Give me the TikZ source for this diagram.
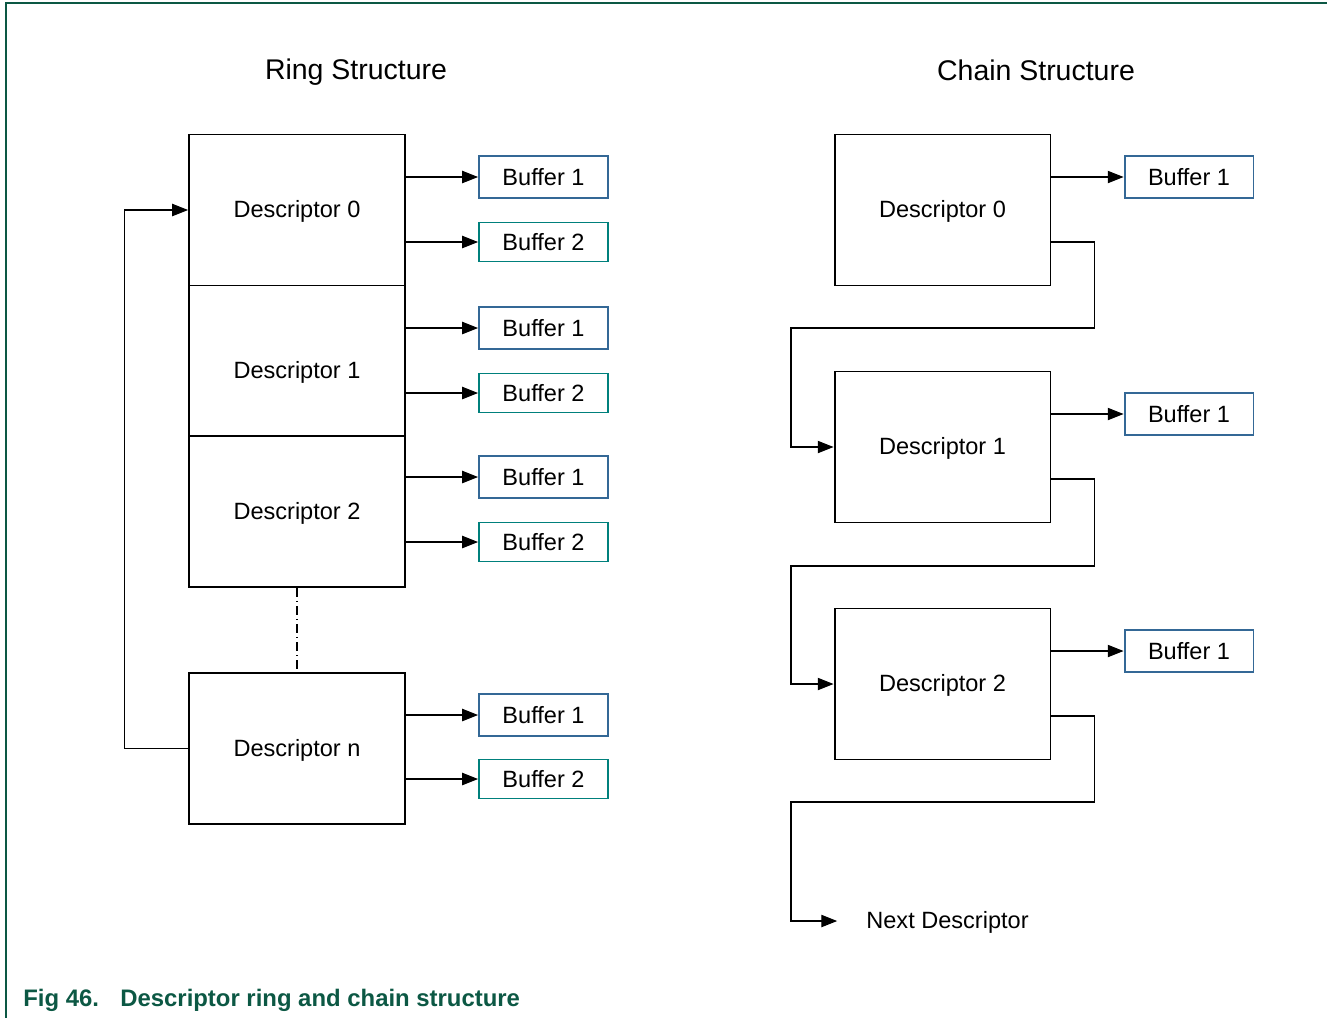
\documentclass[tikz,border=0pt]{standalone}
\usepackage{fontspec}
\setmainfont{Liberation Sans}
\usepackage{tikz}
\usetikzlibrary{arrows.meta, positioning, calc}
\definecolor{nxp-green}{RGB}{12,88,68}
\definecolor{buf-blue}{RGB}{52,104,150}
\definecolor{buf-teal}{RGB}{0,128,124}

\newcommand{\descdown}[2]{\raisebox{-#1}[\height][\depth]{#2}}

\tikzset{
    desc/.style={draw, line width=1.1pt, minimum width=4.32cm, minimum height=3.02cm,
        font=\fontsize{13.4}{16}\selectfont},
    bufa/.style={draw=buf-blue, line width=1.1pt, minimum width=2.58cm, minimum height=0.84cm,
        font=\fontsize{13.4}{16}\selectfont},
    bufb/.style={bufa, draw=buf-teal, minimum height=0.78cm},
    link/.style={line width=0.6pt, -{Triangle[length=9pt,width=7pt]}},
    titulo/.style={font=\fontsize{16.2}{19}\selectfont}
}

\begin{document}
\begin{tikzpicture}[x=0.02cm, y=-0.02cm]
    \useasboundingbox (0,0) rectangle (1327,1018);

    % Moldura
    \draw[nxp-green, line width=0.7pt] (1327,3) -- (6,3) -- (6,1018);

    % Titulos
    \node[titulo] (t-ring) at (356,72) {Ring Structure};
    \node[titulo] (t-chain) at (1036,70) {Chain Structure};

    % Anel
    \node[desc] (d0) at (297,210) {\descdown{0.03cm}{Descriptor 0}};
    \node[desc] (d1) at (297,361) {\descdown{0.22cm}{Descriptor 1}};
    \node[desc] (d2) at (297,511.5) {\descdown{0.03cm}{Descriptor 2}};
    \node[desc] (dn) at (297,748.5) {\descdown{0.03cm}{Descriptor n}};

    \foreach \d/\ya/\yb in {d0/177/242, d1/328/393, d2/477/542, dn/715/779} {
        \node[bufa] (\d-b1) at (543.5,\ya) {Buffer 1};
        \node[bufb] (\d-b2) at (543.5,\yb) {Buffer 2};
        \draw[link] (\d.east |- \d-b1.west) -- (\d-b1.west);
        \draw[link] (\d.east |- \d-b2.west) -- (\d-b2.west);
    }

    \draw[line width=0.6pt, dash pattern=on 5pt off 2.3pt on 0.7pt off 2.3pt] (d2.south) -- (dn.north);
    \draw[link] (dn.west) -- ++(-64,0) |- (d0.west);

    % Cadeia
    \node[desc] (c0) at (942.5,210) {\descdown{0.03cm}{Descriptor 0}};
    \node[desc] (c1) at (942.5,447) {\descdown{0.03cm}{Descriptor 1}};
    \node[desc] (c2) at (942.5,684) {\descdown{0.03cm}{Descriptor 2}};
    \node[font=\fontsize{13.4}{16}\selectfont] (next) at (947.5,922.5) {Next Descriptor};

    \foreach \c/\y in {c0/177, c1/414, c2/651} {
        \node[bufa] (\c-b1) at (1189,\y) {Buffer 1};
        \draw[link] (\c.east |- \c-b1.west) -- (\c-b1.west);
    }

    \draw[link] ($(c0.east)+(0,32)$) -- ++(43,0) |- (791,328) |- (c1.west);
    \draw[link] ($(c1.east)+(0,32)$) -- ++(43,0) |- (791,566) |- (c2.west);
    \draw[link] ($(c2.east)+(0,32)$) -- ++(43,0) |- (791,802) |- ($(next.west)+(-23,-1.5)$);

    % Legenda
    \node[anchor=west, inner sep=0pt, text=nxp-green, font=\fontsize{13.6}{16}\selectfont\bfseries] (cap-fig) at (23,1000) {Fig 46.};
    \node[anchor=west, inner sep=0pt, text=nxp-green, font=\fontsize{13.6}{16}\selectfont\bfseries] (cap-text) at (120,1000) {Descriptor ring and chain structure};
\end{tikzpicture}
\end{document}
